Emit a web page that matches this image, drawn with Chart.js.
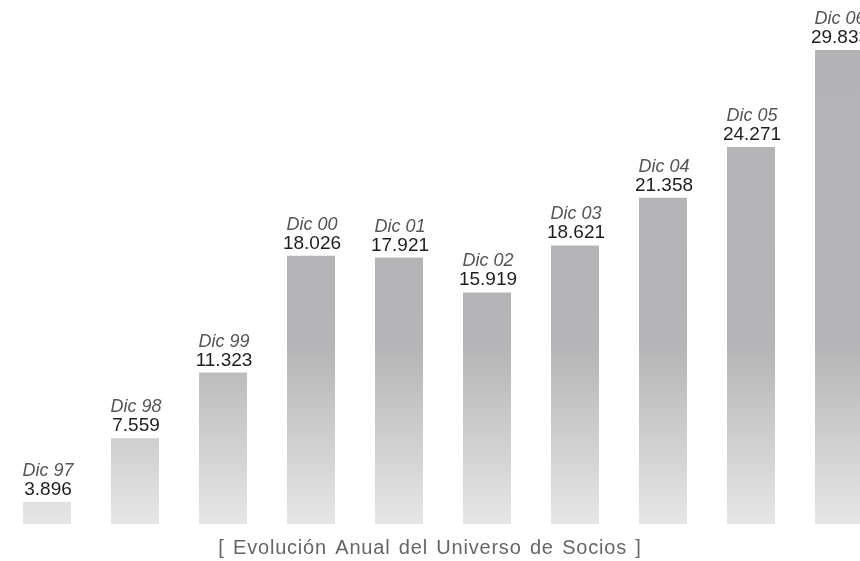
<!DOCTYPE html>
<html>
<head>
<meta charset="utf-8">
<script src="https://cdn.jsdelivr.net/npm/chart.js@4/dist/chart.umd.min.js"></script>
<style>
  html, body { margin: 0; padding: 0; background: #ffffff; overflow: hidden; width: 860px; height: 561px; }
  #wrap { position: absolute; left: 0; top: 0; width: 883px; height: 561px; }
</style>
</head>
<body>
<div id="wrap"><canvas id="c" width="883" height="561"></canvas></div>
<script>
// ---- data ----
const categories = ['Dic 97', 'Dic 98', 'Dic 99', 'Dic 00', 'Dic 01', 'Dic 02', 'Dic 03', 'Dic 04', 'Dic 05', 'Dic 06'];
const socios = [3896, 7559, 11323, 18026, 17921, 15919, 18621, 21358, 24271, 29833];
const titleText = '[ Evolución Anual del Universo de Socios ]';
const yMin = 2634;
const yMax = 32702;

function fmt(v) {
  return String(v).replace(/\B(?=(\d{3})+(?!\d))/g, '.');
}

const labelPlugin = {
  id: 'barLabels',
  afterDatasetsDraw(chart) {
    const ctx = chart.ctx;
    const meta = chart.getDatasetMeta(0);
    ctx.save();
    ctx.textAlign = 'center';
    ctx.textBaseline = 'alphabetic';
    meta.data.forEach((bar, i) => {
      const x = bar.x + 1;
      const y = bar.y;
      ctx.fillStyle = '#1e1e1e';
      ctx.font = '19px "Liberation Sans", Arial, sans-serif';
      ctx.fillText(fmt(socios[i]), x, y - 7);
      ctx.fillStyle = '#555555';
      ctx.font = 'italic 18px "Liberation Sans", Arial, sans-serif';
      ctx.fillText(categories[i], x, y - 26);
    });
    ctx.restore();
  }
};

const titlePlugin = {
  id: 'bottomTitle',
  afterDraw(chart) {
    const ctx = chart.ctx;
    ctx.save();
    ctx.textAlign = 'center';
    ctx.textBaseline = 'alphabetic';
    ctx.fillStyle = '#666666';
    ctx.font = '20px "Liberation Sans", Arial, sans-serif';
    try { ctx.letterSpacing = '0.8px'; ctx.wordSpacing = '2px'; } catch (e) {}
    ctx.fillText(titleText, 430, 554);
    ctx.restore();
  }
};

function barGradient(context) {
  const chart = context.chart;
  const area = chart.chartArea;
  if (!area) return '#b4b4b6';
  const g = chart.ctx.createLinearGradient(0, area.top, 0, area.bottom);
  g.addColorStop(0, '#b3b3b5');
  g.addColorStop(0.66, '#b5b5b7');
  g.addColorStop(1, '#e6e6e6');
  return g;
}

new Chart(document.getElementById('c'), {
  type: 'bar',
  data: {
    labels: categories,
    datasets: [{
      data: socios,
      backgroundColor: barGradient,
      borderWidth: 0,
      categoryPercentage: 1,
      barPercentage: 48 / 88
    }]
  },
  options: {
    responsive: false,
    animation: false,
    devicePixelRatio: 1,
    layout: { padding: { left: 3, right: 0, top: 0, bottom: 37 } },
    scales: {
      x: { display: false },
      y: { display: false, min: yMin, max: yMax }
    },
    plugins: {
      legend: { display: false },
      tooltip: { enabled: false },
      title: { display: false }
    }
  },
  plugins: [labelPlugin, titlePlugin]
});
</script>
</body>
</html>
